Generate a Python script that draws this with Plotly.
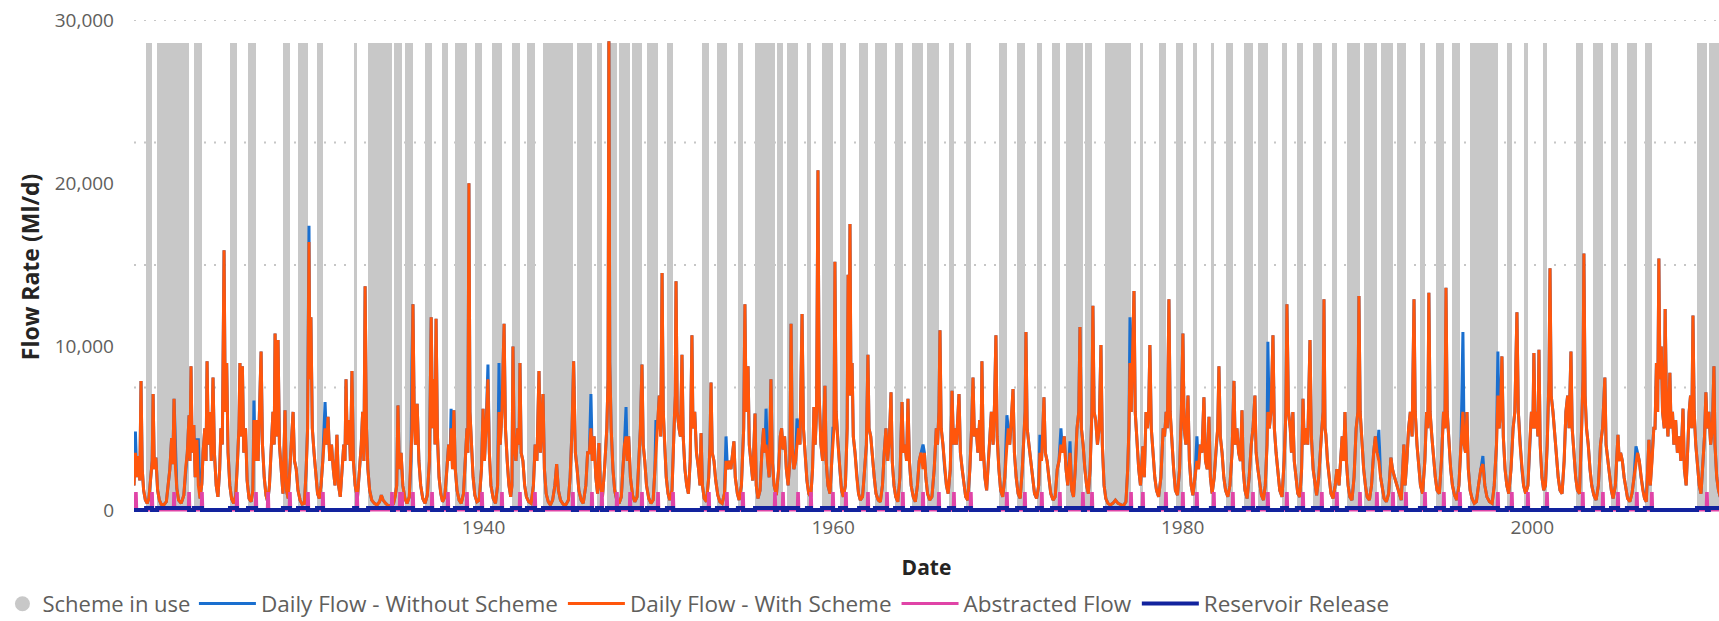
import pandas as pd
import plotly.graph_objects as go

# ================= data =================
# Daily flow with the scheme (Ml/d): (decimal year, value)
flow_with_pts = [
    (1920.00,1500),(1920.08,3500),(1920.16,2000),(1920.25,3300),(1920.33,1800),(1920.40,7900),(1920.47,2500),(1920.55,1200),(1920.65,600),(1920.75,400),(1920.85,700),(1920.95,2200),
    (1921.04,3000),(1921.09,7100),(1921.16,2500),(1921.25,3200),(1921.35,1200),(1921.45,600),(1921.55,350),(1921.70,300),(1921.85,500),(1921.95,1500),
    (1922.05,2500),(1922.15,4400),(1922.22,2800),(1922.29,6800),(1922.37,2600),(1922.45,1300),(1922.55,600),(1922.70,400),(1922.85,900),(1922.95,2500),
    (1923.05,3500),(1923.15,5800),(1923.20,3000),(1923.26,8800),(1923.33,3500),(1923.42,5200),(1923.50,2000),(1923.60,4300),(1923.68,1500),(1923.78,700),(1923.88,1600),(1923.95,3500),
    (1924.05,5000),(1924.12,3000),(1924.18,9100),(1924.25,4000),(1924.35,6000),(1924.42,3000),(1924.52,8100),(1924.60,3500),(1924.70,1500),(1924.80,800),(1924.90,2500),(1924.97,5000),
    (1925.05,4000),(1925.15,15900),(1925.22,6000),(1925.30,9000),(1925.38,3500),(1925.48,1500),(1925.58,700),(1925.70,400),(1925.82,900),(1925.92,3000),
    (1926.00,5000),(1926.06,9000),(1926.12,4500),(1926.20,8800),(1926.28,3500),(1926.38,5000),(1926.47,1800),(1926.58,700),(1926.70,500),(1926.80,1200),(1926.86,5500),(1926.93,3000),
    (1927.02,5500),(1927.10,3000),(1927.18,6000),(1927.27,9700),(1927.35,4000),(1927.45,2000),(1927.55,900),(1927.65,500),(1927.75,1500),(1927.85,3500),(1927.95,6000),
    (1928.02,4000),(1928.07,10800),(1928.15,4500),(1928.24,10400),(1928.32,4000),(1928.42,2500),(1928.52,1000),(1928.64,6100),(1928.72,1200),(1928.82,700),(1928.92,2500),
    (1929.02,4000),(1929.10,6000),(1929.18,3000),(1929.28,2500),(1929.38,1200),(1929.50,600),(1929.62,350),(1929.75,400),(1929.85,2500),(1929.93,5000),
    (1930.01,16400),(1930.06,8000),(1930.12,11800),(1930.20,5000),(1930.30,3500),(1930.40,2000),(1930.50,1000),(1930.60,700),(1930.70,1500),(1930.80,3000),(1930.93,5000),
    (1931.02,4000),(1931.10,5700),(1931.20,3000),(1931.30,4000),(1931.40,2500),(1931.50,1500),(1931.61,4600),(1931.70,1500),(1931.80,800),(1931.90,2500),
    (1932.00,4000),(1932.07,3000),(1932.13,8000),(1932.20,4000),(1932.30,5500),(1932.38,3000),(1932.47,8500),(1932.55,3000),(1932.65,1500),(1932.78,700),(1932.90,2500),
    (1933.00,4000),(1933.08,6000),(1933.15,3000),(1933.22,13700),(1933.30,5000),(1933.38,2500),(1933.48,1200),(1933.60,600),(1933.75,400),(1933.90,300),
    (1934.05,500),(1934.15,900),(1934.25,600),(1934.40,400),(1934.55,250),(1934.70,250),(1934.85,400),(1934.95,900),
    (1935.03,1500),(1935.10,6400),(1935.18,2500),(1935.28,3500),(1935.38,1500),(1935.50,700),(1935.62,400),(1935.75,800),(1935.85,3000),(1935.90,5000),(1935.96,12600),
    (1936.03,6000),(1936.10,4000),(1936.20,6500),(1936.30,3000),(1936.40,1500),(1936.52,700),(1936.65,400),(1936.78,900),(1936.90,3000),
    (1937.00,11800),(1937.08,5000),(1937.16,8000),(1937.22,4000),(1937.28,11700),(1937.36,4500),(1937.45,2000),(1937.55,1000),(1937.65,500),(1937.78,800),(1937.90,2500),
    (1938.00,4000),(1938.08,3000),(1938.14,5000),(1938.22,2500),(1938.30,6100),(1938.38,2500),(1938.48,1200),(1938.60,600),(1938.72,400),(1938.85,1000),(1938.95,3000),
    (1939.05,5000),(1939.10,3500),(1939.16,20000),(1939.22,6000),(1939.30,4000),(1939.40,2000),(1939.50,900),(1939.62,500),(1939.75,600),(1939.88,2500),(1939.97,6200),
    (1940.05,3000),(1940.14,5000),(1940.25,8000),(1940.33,3500),(1940.42,1500),(1940.55,700),(1940.68,400),(1940.80,1500),(1940.88,6000),(1940.95,4000),
    (1941.05,6000),(1941.17,11400),(1941.25,5000),(1941.35,3000),(1941.45,1500),(1941.55,800),(1941.62,1500),(1941.68,10000),(1941.75,4000),(1941.85,3000),(1941.95,5000),
    (1942.03,4000),(1942.08,9000),(1942.15,3500),(1942.25,3000),(1942.35,1500),(1942.45,800),(1942.58,500),(1942.72,400),(1942.85,1500),(1942.95,4000),
    (1943.05,3000),(1943.17,8500),(1943.25,3500),(1943.33,5000),(1943.40,7100),(1943.48,2500),(1943.58,1000),(1943.70,500),(1943.82,300),(1943.95,600),
    (1944.08,1500),(1944.18,2800),(1944.28,1200),(1944.40,600),(1944.55,350),(1944.70,300),(1944.85,600),(1944.95,2000),
    (1945.06,5000),(1945.15,9100),(1945.25,3500),(1945.35,2500),(1945.45,1200),(1945.58,600),(1945.70,400),(1945.85,1500),(1945.95,3500),
    (1946.05,3500),(1946.14,5000),(1946.22,3000),(1946.32,4500),(1946.42,2000),(1946.52,1000),(1946.60,4100),(1946.68,1500),(1946.80,800),(1946.92,2500),
    (1947.05,5000),(1947.12,8000),(1947.17,28700),(1947.22,9000),(1947.30,5000),(1947.40,2500),(1947.50,1200),(1947.62,600),(1947.75,400),(1947.88,800),(1947.97,2500),
    (1948.06,4000),(1948.15,4500),(1948.22,3000),(1948.30,4500),(1948.40,2000),(1948.52,900),(1948.65,500),(1948.78,800),(1948.90,3000),(1948.97,5000),
    (1949.06,8900),(1949.13,4000),(1949.22,3000),(1949.32,1500),(1949.45,700),(1949.58,400),(1949.70,600),(1949.80,2500),(1949.86,4000),(1949.95,5000),
    (1950.05,7000),(1950.13,4500),(1950.21,14500),(1950.28,6000),(1950.36,4000),(1950.45,2000),(1950.55,1000),(1950.65,600),(1950.78,1200),(1950.90,5000),
    (1950.96,7000),(1951.01,14000),(1951.08,6000),(1951.18,5000),(1951.26,4500),(1951.35,9500),(1951.42,4500),(1951.52,2500),(1951.62,1500),(1951.72,1000),(1951.82,3000),(1951.92,10700),
    (1951.98,5000),(1952.08,6000),(1952.18,3500),(1952.30,2500),(1952.38,1500),(1952.44,4700),(1952.52,1500),(1952.62,700),(1952.75,500),(1952.88,2000),(1952.95,4000),
    (1953.01,7800),(1953.08,3500),(1953.18,3000),(1953.28,1800),(1953.40,900),(1953.52,500),(1953.65,400),(1953.78,1000),(1953.87,3000),(1953.95,2500),
    (1954.05,3000),(1954.15,2500),(1954.25,3500),(1954.32,4200),(1954.40,2000),(1954.52,1000),(1954.62,600),(1954.75,1500),(1954.88,5000),(1954.95,12600),
    (1955.02,6000),(1955.13,8800),(1955.20,4000),(1955.30,3000),(1955.40,1800),(1955.53,5900),(1955.60,1500),(1955.70,700),(1955.82,1200),(1955.92,3500),
    (1956.02,5000),(1956.10,3500),(1956.16,4000),(1956.25,3000),(1956.34,2000),(1956.44,8000),(1956.52,3000),(1956.62,1500),(1956.75,900),(1956.88,2500),(1956.97,4500),
    (1957.05,5000),(1957.13,3700),(1957.22,4500),(1957.32,2500),(1957.42,1500),(1957.52,3000),(1957.59,11400),(1957.66,4000),(1957.75,2500),(1957.85,3000),(1957.93,4000),
    (1958.02,5000),(1958.10,4000),(1958.22,12000),(1958.30,5000),(1958.40,3000),(1958.50,1800),(1958.60,1000),(1958.72,800),(1958.82,2500),(1958.90,6300),(1958.97,4000),
    (1959.05,6000),(1959.13,20800),(1959.20,7000),(1959.30,4000),(1959.40,3000),(1959.53,7600),(1959.60,3000),(1959.70,1500),(1959.82,1000),(1959.92,3000),(1959.99,4000),
    (1960.05,5000),(1960.10,15200),(1960.17,6000),(1960.28,4000),(1960.38,2500),(1960.48,1200),(1960.58,800),(1960.70,1500),(1960.80,5000),(1960.85,14400),(1960.90,7000),(1960.96,17500),
    (1961.02,7000),(1961.08,9000),(1961.15,4500),(1961.25,3500),(1961.35,2000),(1961.45,1000),(1961.55,600),(1961.68,800),(1961.80,2500),(1961.90,4000),(1961.99,9500),
    (1962.05,5000),(1962.15,4500),(1962.25,3000),(1962.35,2000),(1962.45,1000),(1962.58,600),(1962.70,500),(1962.82,1500),(1962.92,3500),
    (1963.02,5000),(1963.12,3000),(1963.22,4500),(1963.31,7200),(1963.38,3000),(1963.48,1500),(1963.58,800),(1963.70,500),(1963.82,2000),(1963.94,6600),
    (1964.02,3500),(1964.12,4000),(1964.20,3000),(1964.28,6800),(1964.36,3000),(1964.46,1500),(1964.58,800),(1964.70,500),(1964.82,1500),(1964.92,3000),
    (1965.02,3500),(1965.14,2500),(1965.22,3500),(1965.30,2000),(1965.40,1000),(1965.52,600),(1965.65,800),(1965.78,2500),(1965.90,5000),(1965.97,4000),
    (1966.05,6000),(1966.11,11000),(1966.18,5000),(1966.28,4000),(1966.38,2500),(1966.48,1500),(1966.58,1000),(1966.70,2500),(1966.80,7300),(1966.88,4000),(1966.96,5000),
    (1967.05,4000),(1967.20,7100),(1967.28,3500),(1967.38,2500),(1967.48,1500),(1967.58,800),(1967.70,600),(1967.82,2500),(1967.92,5000),
    (1968.00,8100),(1968.08,4500),(1968.18,5000),(1968.28,3500),(1968.38,5500),(1968.45,3000),(1968.51,9100),(1968.58,4000),(1968.68,2000),(1968.78,1200),(1968.88,3000),(1968.96,5000),
    (1969.05,6000),(1969.15,4000),(1969.23,6500),(1969.31,10700),(1969.38,4500),(1969.48,2500),(1969.58,1200),(1969.70,800),(1969.82,2000),(1969.94,4000),
    (1970.02,5000),(1970.10,4000),(1970.20,5500),(1970.29,7400),(1970.37,3500),(1970.47,2000),(1970.58,1000),(1970.70,700),(1970.82,2500),(1970.92,4500),(1970.98,6000),
    (1971.03,10900),(1971.10,5000),(1971.20,4000),(1971.30,3000),(1971.40,2000),(1971.52,1000),(1971.64,700),(1971.76,1500),(1971.83,3500),(1971.92,3000),
    (1972.00,5000),(1972.06,6900),(1972.14,3500),(1972.24,3000),(1972.34,2000),(1972.45,1000),(1972.58,600),(1972.70,800),(1972.82,2500),(1972.92,3000),
    (1973.03,4000),(1973.12,3500),(1973.22,4500),(1973.32,2500),(1973.42,1500),(1973.55,3500),(1973.65,1200),(1973.75,800),(1973.85,2500),(1973.95,5000),
    (1974.05,6000),(1974.12,11200),(1974.20,5000),(1974.30,4000),(1974.40,2500),(1974.50,1500),(1974.60,1000),(1974.70,2500),(1974.80,6000),(1974.86,12500),(1974.93,6000),
    (1975.02,5500),(1975.12,4000),(1975.22,5000),(1975.32,10100),(1975.40,4000),(1975.50,1500),(1975.60,700),(1975.72,400),(1975.85,300),
    (1976.00,400),(1976.15,600),(1976.30,400),(1976.45,300),(1976.60,250),(1976.75,500),(1976.85,2500),(1976.92,5000),(1976.98,9000),
    (1977.05,6000),(1977.21,13400),(1977.28,6000),(1977.38,4000),(1977.48,2500),(1977.58,1500),(1977.72,3900),(1977.80,2000),(1977.90,6000),(1977.98,5000),
    (1978.05,6000),(1978.12,10100),(1978.20,5000),(1978.30,3500),(1978.40,2000),(1978.50,1200),(1978.62,800),(1978.75,2000),(1978.88,5000),(1978.96,4500),
    (1979.05,6000),(1979.12,5000),(1979.21,12900),(1979.28,6000),(1979.38,4000),(1979.48,2500),(1979.58,1200),(1979.70,900),(1979.82,2500),(1979.92,6000),
    (1980.01,10800),(1980.08,5000),(1980.18,4000),(1980.30,7000),(1980.38,3000),(1980.48,1500),(1980.58,900),(1980.70,2000),(1980.81,3000),(1980.90,2500),
    (1981.00,4000),(1981.10,3500),(1981.21,6900),(1981.30,3000),(1981.40,2500),(1981.50,5700),(1981.58,2000),(1981.68,1000),(1981.80,2000),(1981.92,4000),
    (1982.00,5000),(1982.07,8800),(1982.15,4500),(1982.25,3500),(1982.35,2000),(1982.45,1200),(1982.58,800),(1982.70,1500),(1982.82,3500),(1982.93,7900),
    (1983.00,4000),(1983.10,5000),(1983.20,3500),(1983.30,3000),(1983.39,6100),(1983.46,2500),(1983.56,1200),(1983.68,700),(1983.80,2000),(1983.92,4000),
    (1984.02,5000),(1984.13,7000),(1984.20,3500),(1984.30,2500),(1984.40,1500),(1984.50,900),(1984.62,600),(1984.72,1500),(1984.82,4000),(1984.87,6000),(1984.95,5000),
    (1985.05,6000),(1985.16,10700),(1985.24,5000),(1985.34,3500),(1985.45,2000),(1985.55,1200),(1985.68,800),(1985.80,3000),(1985.90,6000),(1985.96,12600),
    (1986.05,6000),(1986.15,5000),(1986.22,3500),(1986.30,6000),(1986.38,3000),(1986.48,1800),(1986.58,1000),(1986.70,800),(1986.80,2500),(1986.88,6800),(1986.95,4000),
    (1987.05,5000),(1987.15,4000),(1987.28,10400),(1987.36,4500),(1987.46,2500),(1987.56,1500),(1987.66,900),(1987.78,2000),(1987.88,4000),(1987.96,5000),
    (1988.03,6000),(1988.08,12900),(1988.14,5000),(1988.19,4600),(1988.28,3000),(1988.38,1800),(1988.48,1000),(1988.60,700),(1988.72,1500),(1988.82,2500),(1988.94,1500),
    (1989.03,3000),(1989.12,4500),(1989.20,3000),(1989.28,6000),(1989.36,3000),(1989.46,1500),(1989.56,800),(1989.68,600),(1989.80,2000),(1989.92,5000),
    (1990.02,6000),(1990.08,13100),(1990.15,6000),(1990.25,4000),(1990.35,2500),(1990.45,1500),(1990.55,800),(1990.68,600),(1990.80,1500),(1990.92,3500),
    (1991.02,4500),(1991.12,3500),(1991.22,3000),(1991.32,2000),(1991.42,1200),(1991.52,700),(1991.65,500),(1991.78,1000),(1991.91,3200),
    (1992.00,2500),(1992.12,2000),(1992.25,1500),(1992.38,900),(1992.50,600),(1992.65,4000),(1992.72,1500),(1992.82,3000),(1992.92,5000),
    (1993.02,6000),(1993.12,4500),(1993.23,12900),(1993.30,6000),(1993.40,4000),(1993.50,2500),(1993.60,1500),(1993.72,1000),(1993.85,3000),(1993.95,6000),
    (1994.02,5000),(1994.08,13300),(1994.15,6000),(1994.25,4500),(1994.35,3000),(1994.45,2000),(1994.55,1200),(1994.68,1000),(1994.80,3000),(1994.92,6000),
    (1995.00,5000),(1995.06,13600),(1995.13,6000),(1995.23,4000),(1995.33,2500),(1995.43,1500),(1995.55,900),(1995.68,600),(1995.80,1500),(1995.92,4000),
    (1996.03,6000),(1996.10,4000),(1996.18,3500),(1996.26,6000),(1996.34,2500),(1996.44,1200),(1996.55,700),(1996.68,400),(1996.80,500),(1996.92,1500),
    (1997.05,2500),(1997.17,2800),(1997.28,1500),(1997.40,800),(1997.55,500),(1997.70,400),(1997.82,1500),(1997.95,4000),
    (1998.03,7000),(1998.10,5000),(1998.18,6000),(1998.26,9400),(1998.34,4500),(1998.44,2500),(1998.54,1500),(1998.65,1000),(1998.78,2500),(1998.90,5000),
    (1999.00,6000),(1999.12,12100),(1999.20,6000),(1999.30,4000),(1999.40,2500),(1999.50,1500),(1999.62,1000),(1999.75,1500),(1999.85,4000),(1999.95,6000),
    (2000.03,5000),(2000.09,9600),(2000.16,5000),(2000.24,6000),(2000.32,4500),(2000.38,9800),(2000.45,4000),(2000.55,2000),(2000.65,1200),(2000.75,1500),(2000.85,4000),(2000.95,8000),
    (2001.01,14800),(2001.08,7000),(2001.18,6000),(2001.28,4500),(2001.38,3000),(2001.48,2000),(2001.58,1200),(2001.70,1000),(2001.82,3000),(2001.92,6000),
    (2002.02,7000),(2002.10,5000),(2002.21,9700),(2002.28,5000),(2002.38,3500),(2002.48,2000),(2002.58,1200),(2002.70,1000),(2002.82,5000),(2002.90,8000),(2002.95,15700),
    (2003.02,7000),(2003.10,5000),(2003.20,4000),(2003.30,2500),(2003.40,1500),(2003.52,900),(2003.65,600),(2003.78,1500),(2003.90,4000),
    (2004.02,5000),(2004.15,8100),(2004.22,4000),(2004.32,3000),(2004.42,2000),(2004.52,1200),(2004.62,700),(2004.75,1500),(2004.90,4600),(2004.97,3000),
    (2005.05,3500),(2005.15,3000),(2005.25,2000),(2005.35,1200),(2005.45,700),(2005.58,500),(2005.70,1000),(2005.82,2000),(2005.93,3000),
    (2006.02,3500),(2006.12,3000),(2006.22,2000),(2006.32,1200),(2006.42,700),(2006.52,500),(2006.67,4300),(2006.75,1500),(2006.85,3000),(2006.95,5000),
    (2007.02,5000),(2007.10,9000),(2007.17,6000),(2007.24,15400),(2007.30,8000),(2007.38,10000),(2007.45,6000),(2007.55,5000),(2007.60,12300),(2007.68,6000),(2007.76,4500),(2007.87,8400),(2007.94,5000),
    (2008.02,6000),(2008.10,4000),(2008.20,5500),(2008.30,3500),(2008.40,4500),(2008.50,3000),(2008.62,6200),(2008.70,2500),(2008.80,1500),(2008.90,4000),(2008.97,6000),
    (2009.05,7000),(2009.12,5000),(2009.19,11900),(2009.26,6000),(2009.35,4000),(2009.45,2500),(2009.55,1500),(2009.65,1000),(2009.75,2500),(2009.85,4500),(2009.93,7200),
    (2010.00,5000),(2010.10,6000),(2010.20,4000),(2010.30,5000),(2010.39,8800),(2010.45,4000),(2010.55,2000),(2010.65,1200),(2010.75,800),
]

# Points where the flow without the scheme stands above the with-scheme line
without_peaks = [
    (1920.08,4800),(1922.37,4400),(1923.68,4300),(1926.86,6700),(1930.01,17400),(1930.93,6600),
    (1935.90,9000),(1938.14,6200),(1940.25,8900),(1940.88,9000),(1946.14,7100),(1948.15,6300),
    (1949.86,5500),(1953.87,4500),(1956.16,6200),(1957.93,5600),(1959.99,5000),(1965.14,4000),
    (1969.94,5800),(1971.83,4600),(1973.03,5000),(1973.55,4200),(1976.98,11800),(1980.81,4500),
    (1984.87,10300),(1991.22,4900),(1996.03,10900),(1997.17,3300),(1998.03,9700),(2005.93,3900),
]

# "Scheme in use" periods (decimal years)
scheme_start = [1920.69, 1921.32, 1923.43, 1925.49, 1926.52, 1928.52, 1929.38, 1930.47, 1932.59, 1933.39,
                1934.87, 1935.50, 1936.65, 1937.62, 1938.36, 1939.51, 1940.48, 1941.62, 1942.48, 1943.40,
                1945.34, 1946.49, 1947.06, 1947.75, 1948.49, 1949.35, 1950.49, 1952.49, 1953.35, 1954.55,
                1955.53, 1956.78, 1957.36, 1958.50, 1959.36, 1960.39, 1961.48, 1962.39, 1963.54, 1964.51,
                1965.37, 1966.62, 1967.60, 1969.48, 1970.52, 1971.66, 1972.52, 1973.32, 1974.41, 1975.55,
                1977.55, 1978.64, 1979.61, 1980.58, 1981.61, 1982.47, 1983.50, 1984.30, 1985.68, 1986.53,
                1987.45, 1988.54, 1989.39, 1990.37, 1991.34, 1992.25, 1993.57, 1994.49, 1995.40, 1996.43,
                1998.54, 1999.52, 2000.61, 2002.49, 2003.47, 2004.50, 2005.41, 2006.44, 2009.42, 2010.10]
scheme_end = [1921.03, 1923.15, 1923.89, 1925.89, 1926.98, 1928.92, 1929.95, 1930.81, 1932.76, 1934.76,
              1935.33, 1935.96, 1937.05, 1937.96, 1939.05, 1939.91, 1941.05, 1942.08, 1942.94, 1945.11,
              1946.20, 1946.77, 1947.63, 1948.38, 1949.06, 1949.98, 1950.84, 1952.89, 1953.92, 1954.84,
              1956.67, 1957.13, 1957.99, 1958.73, 1959.99, 1960.73, 1961.99, 1963.08, 1963.99, 1965.14,
              1966.05, 1966.91, 1967.88, 1969.94, 1970.97, 1971.94, 1972.97, 1974.29, 1974.81, 1977.04,
              1977.72, 1979.04, 1980.01, 1980.81, 1981.78, 1982.87, 1984.02, 1984.87, 1985.96, 1986.88,
              1987.96, 1988.82, 1990.14, 1991.11, 1992.03, 1992.77, 1993.86, 1994.94, 1995.86, 1998.03,
              1998.83, 1999.75, 2000.84, 2002.89, 2004.04, 2004.90, 2005.98, 2006.84, 2009.99, 2010.80]
scheme_height = 28600

# Abstracted flow spikes (decimal year) besides those at the end of each scheme period
abstract_extra = [1920.11, 1922.29, 1927.67, 1935.22]
abstract_peak = 1000
release_in_use = 120

y_ticks = [0, 10000, 20000, 30000]
y_tick_text = ["0", "10,000", "20,000", "30,000"]
x_ticks = ["1940", "1960", "1980", "2000"]
x_range = (1920.0, 2010.68)

# ================= build =================
def dec_to_date(y):
    yr = int(y)
    start = pd.Timestamp(year=yr, month=1, day=1)
    end = pd.Timestamp(year=yr + 1, month=1, day=1)
    return start + (end - start) * (y - yr)

with_x = [dec_to_date(t) for t, _ in flow_with_pts]
with_y = [v for _, v in flow_with_pts]
over = {round(t, 2): v for t, v in without_peaks}
without_y = [over.get(round(t, 2), v) for t, v in flow_with_pts]

s_start = [dec_to_date(v) for v in scheme_start]
s_end = [dec_to_date(v) for v in scheme_end]
bar_mid = [a + (b - a) / 2 for a, b in zip(s_start, s_end)]
bar_w = [(b - a).total_seconds() * 1000 for a, b in zip(s_start, s_end)]

spikes = sorted(scheme_end + abstract_extra)
ab_x, ab_y = [dec_to_date(x_range[0])], [0]
for t in spikes:
    ab_x += [dec_to_date(t - 0.045), dec_to_date(t - 0.02), dec_to_date(t + 0.02), dec_to_date(t + 0.045)]
    ab_y += [0, abstract_peak, abstract_peak, 0]
ab_x.append(dec_to_date(2011.0)); ab_y.append(0)

rel_x, rel_y = [dec_to_date(x_range[0])], [0]
for a, b in zip(s_start, s_end):
    rel_x += [a, a, b, b]
    rel_y += [0, release_in_use, release_in_use, 0]
rel_x.append(dec_to_date(2011.0)); rel_y.append(0)

GREY = "#C8C8C8"
BLUE = "#1A6FCF"
ORANGE = "#FF560C"
PINK = "#E044A7"
NAVY = "#12239E"
FONT = "Open Sans"
TXT = "#605E5C"

fig = go.Figure()
fig.add_trace(go.Scatter(x=[None], y=[None], mode="markers", name="Scheme in use", legend="legend2",
                         marker=dict(symbol="circle", size=15, color=GREY)))
fig.add_trace(go.Bar(x=bar_mid, y=[scheme_height] * len(bar_mid), width=bar_w,
                     marker=dict(color=GREY, line=dict(width=0)), showlegend=False,
                     name="Scheme in use", hoverinfo="skip"))
fig.add_trace(go.Scatter(x=with_x, y=without_y, mode="lines", name="Daily Flow - Without Scheme",
                         line=dict(color=BLUE, width=3)))
fig.add_trace(go.Scatter(x=with_x, y=with_y, mode="lines", name="Daily Flow - With Scheme",
                         line=dict(color=ORANGE, width=3)))
fig.add_trace(go.Scatter(x=ab_x, y=ab_y, mode="lines", name="Abstracted Flow",
                         line=dict(color=PINK, width=3)))
fig.add_trace(go.Scatter(x=rel_x, y=rel_y, mode="lines", name="Reservoir Release",
                         line=dict(color=NAVY, width=4)))

for g in [7500, 15000, 22500, 30000]:
    fig.add_shape(type="line", xref="paper", x0=0, x1=1, yref="y", y0=g, y1=g,
                  line=dict(color="#C6C6C6", width=2, dash="2px,8px"), layer="below")

fig.update_layout(
    width=1719, height=621,
    margin=dict(l=134, r=0, t=20, b=107, autoexpand=False),
    paper_bgcolor="white", plot_bgcolor="white",
    bargap=0,
    font=dict(family=FONT, size=19, color=TXT),
    showlegend=True,
    legend=dict(orientation="h", x=0.0378, xanchor="left", y=-0.182, yanchor="middle",
                font=dict(size=22.5, color=TXT), itemwidth=57, tracegroupgap=0,
                bgcolor="rgba(0,0,0,0)"),
    legend2=dict(orientation="h", x=-0.083, xanchor="left", y=-0.182, yanchor="middle",
                 font=dict(size=22, color=TXT), itemwidth=30,
                 bgcolor="rgba(0,0,0,0)"),
)
fig.update_xaxes(
    type="date",
    range=[dec_to_date(x_range[0]), dec_to_date(x_range[1])],
    tickvals=[pd.Timestamp(f"{t}-01-01") for t in x_ticks], ticktext=x_ticks,
    showgrid=False, zeroline=False, showline=False, ticks="",
    ticklabelstandoff=0,
    tickfont=dict(size=19, color=TXT),
    title=dict(text="<b>Date</b>", font=dict(size=21, color="#252423"), standoff=21),
)
fig.update_yaxes(
    range=[-250, 30000], tickvals=y_ticks, ticktext=y_tick_text,
    showgrid=False, zeroline=False, showline=False, ticks="",
    ticklabelstandoff=19,
    tickfont=dict(size=19, color=TXT),
    title=dict(text="<b>Flow Rate (Ml/d)</b>", font=dict(size=23, color="#252423"), standoff=8),
)

fig.write_html("out.html", config={"displayModeBar": False},
               post_script="document.body.style.margin='0';document.body.style.overflow='hidden';")
